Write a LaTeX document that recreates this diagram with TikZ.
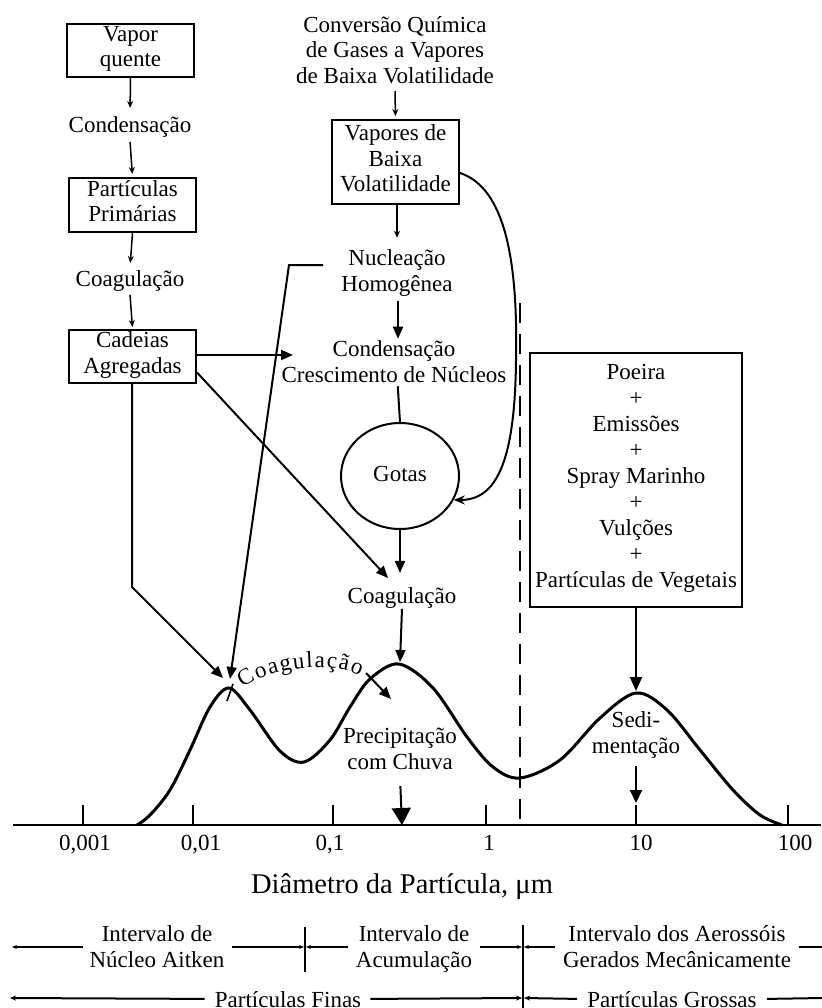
\documentclass[tikz,border=0pt]{standalone}
\usepackage{fontspec}
\setmainfont{Liberation Serif}
\usetikzlibrary{arrows.meta,shapes.geometric,decorations.text}
\newcommand\fs{\fontsize{23}{25.5}\selectfont}
\newcommand\fsbig{\fontsize{28.5}{32}\selectfont}
\begin{document}
\begin{tikzpicture}[x=1pt,y=-1pt,
  txt/.style={font=\fs, align=center, inner sep=0pt, execute at begin node=\strut, execute at end node=\strut},
  box/.style={txt, draw, line width=2pt},
  thinarr/.style={line width=1.5pt, -{Stealth[length=7pt,width=6pt]}},
  bigarr/.style={line width=2pt, -{Triangle[length=12pt,width=10pt]}},
  iarr/.style={line width=1.3pt, -{Stealth[length=5pt,width=4pt]}},
  iarrb/.style={line width=2pt, -{Stealth[length=6pt,width=5pt]}},
  tick/.style={line width=2pt}
]
\useasboundingbox[fill=white] (0,0) rectangle (821,1008);

% left column
\node[box, minimum width=127, minimum height=53] (vapor) at (130.5,50.5) {Vapor\\quente};
\node[txt, anchor=base] (cond1) at (130,133) {Condensação};
\node[box, minimum width=127, minimum height=54] (prim) at (132.5,205) {Partículas\\Primárias};
\node[txt, anchor=base] (coag1) at (130,286) {Coagulação};
\node[box, minimum width=127, minimum height=53] (cad) at (132.5,356.5) {Cadeias\\Agregadas};

\draw[thinarr, shorten >=7pt] (vapor.south) -- (cond1.north);
\draw[thinarr, shorten <=1pt, shorten >=3pt] (cond1.south) -- (prim.north);
\draw[thinarr, shorten >=5pt] (prim.south) -- (coag1.north);
\draw[thinarr, shorten <=1pt, shorten >=2pt] (coag1.south) -- (cad.north);

% middle column
\node[txt] (conv) at (395,53.5) {Conversão Química\\de Gases a Vapores\\de Baixa Volatilidade};
\node[box, minimum width=127, minimum height=84] (vap) at (395.5,162) {Vapores de\\Baixa\\Volatilidade};
\node[txt] (nuc) at (397,274.5) {Nucleação\\Homogênea};
\node[txt] (cresc) at (394,365.5) {Condensação\\Crescimento de Núcleos};
\node[txt, draw, ellipse, line width=2pt, minimum width=118, minimum height=106] (gotas) at (400,476) {Gotas};
\node[txt, anchor=base] (coag2) at (402,603) {Coagulação};

\draw[thinarr, shorten >=3pt] (conv.south) -- (vap.north);
\draw[thinarr, shorten >=12pt] ([xshift=1.5]vap.south) -- ([xshift=1.5]vap.south |- nuc.north);
\draw[bigarr, shorten <=2pt, shorten >=2pt] ([xshift=1]nuc.south) -- ([xshift=1]nuc.south |- cresc.north);
\draw[line width=2pt, shorten <=-4pt] ([xshift=4]cresc.south) -- (gotas.north);
\draw[bigarr, shorten >=12pt] (gotas.south) -- (gotas.south |- coag2.north);

% curved arrow from Vapores to Gotas
\draw[line width=2pt, -{Stealth[length=11pt,width=9pt]}] ([yshift=-11]vap.east)
  .. controls (505,188) and (518,260) .. (516,360)
  .. controls (515,465) and (495,500) .. (gotas.-24);

% coordinates on the distribution
\coordinate (pk1a) at (223,678);
\coordinate (pk1b) at (230,679);
\coordinate (pk2) at (400,662);
\coordinate (pk3) at (636,691);
\coordinate (c2in) at (293,355);
\coordinate (co2in) at (388,578);
\coordinate (cadk) at (132,587);
\coordinate (nuck) at (289,265);

\draw[bigarr] (cad.east |- c2in) -- (c2in);
\draw[bigarr] ([yshift=-16]cad.east) -- (co2in);
\draw[bigarr] (cad.south -| cadk) -- (cadk) -- (pk1a);
\draw[bigarr] ([xshift=-18,yshift=9.5]nuc.west) -- (nuck) -- (pk1b);
\draw[line width=1.6pt] (233,684) -- (227,701);
\draw[bigarr] (coag2.south) ++(0,-2) -- (pk2);

% right box
\node[box, minimum width=212, minimum height=254, font=\fontsize{23}{26}\selectfont] (poe) at (636,480)
  {Poeira\\+\\Emissões\\+\\Spray Marinho\\+\\Vulções\\+\\Partículas de Vegetais};
\draw[line width=2pt, -{Triangle[length=14pt,width=12pt]}] (poe.south) -- (pk3);

% dashed separator
\draw[line width=2pt, dash pattern=on 20pt off 11pt] (520,303) -- (520,825);

% distribution curve
\draw[line width=3pt, line join=round] plot[smooth, tension=0.55] coordinates {
 (137,825) (150,815) (170,790) (190,750) (210,707) (229,688) (250,710) (280,751)
 (304,762) (330,740) (350,707) (370,679) (399,664) (433,688) (467,737) (493,767)
 (520,778) (560,760) (600,718) (636,693) (667,710) (700,750) (733,790) (760,815) (782,825)};

% curved label
\path[decorate, decoration={text along path, text align={fit to path},
  text={|\fontsize{23}{23}\selectfont|Coagulação}}]
  (243,688) .. controls (268,668) and (330,660) .. (360,676);
\coordinate (ctxt) at (366,673);
\coordinate (ctip) at (391,699);
\draw[line width=2pt, -{Triangle[length=12pt,width=10pt]}] (ctxt) -- (ctip);

% labels on plot
\node[txt] (prec) at (400,752.5) {Precipitação\\com Chuva};
\node[txt] (sedi) at (636,736.5) {Sedi-\\mentação};

% axis
\coordinate (ax0) at (13,825);
\coordinate (ax1) at (821,825);
\draw[line width=2.5pt] (ax0) -- (ax1);
\foreach \x in {83,193,333,486,636,788} \draw[tick] (\x,805) -- (\x,825);
\coordinate (a03) at (402,825);
\coordinate (a10) at (636,803);
\draw[line width=2pt, -{Triangle[length=17pt,width=19pt]}, shorten <=9pt] (prec.south) -- (a03);
\draw[line width=2pt, -{Triangle[length=13pt,width=12pt]}, shorten <=5pt] (sedi.south) -- (a10);

\node[txt, anchor=base] (l1) at (85,850) {0,001};
\node[txt, anchor=base] (l2) at (201,850) {0,01};
\node[txt, anchor=base] (l3) at (330,850) {0,1};
\node[txt, anchor=base] (l4) at (489,850) {1};
\node[txt, anchor=base] (l5) at (641,850) {10};
\node[txt, anchor=base] (l6) at (795,850) {100};
\node[txt, anchor=base, font=\fsbig] (diam) at (402,893) {Diâmetro da Partícula, μm};

% intervals
\node[txt] (i1) at (157,950.5) {Intervalo de\\Núcleo Aitken};
\node[txt] (i2) at (414,950.5) {Intervalo de\\Acumulação};
\node[txt] (i3) at (677,950.5) {Intervalo dos Aerossóis\\Gerados Mecânicamente};
\node[txt, anchor=base] (fin) at (288,1007) {Partículas Finas};
\node[txt, anchor=base] (gro) at (672,1007) {Partículas Grossas};

\coordinate (d1t) at (305,927);
\coordinate (d1b) at (305,972);
\coordinate (d2t) at (523,925);
\coordinate (d2b) at (523,1010);
\draw[line width=1.5pt] (d1t) -- (d1b);
\draw[line width=1.5pt] (d2t) -- (d2b);

\coordinate (r1L) at (12,947);
\coordinate (r1a) at (304,947);
\coordinate (r1b) at (306,947);
\coordinate (r1c) at (522,947);
\coordinate (r1d) at (524,947);
\coordinate (r1R) at (823,947);
\draw[iarr] ([xshift=-6.5,yshift=3.5]i1.west) -- (r1L);
\draw[iarr] ([xshift=7.5,yshift=3.5]i1.east) -- (r1a);
\draw[iarr] ([xshift=-8,yshift=3.5]i2.west) -- (r1b);
\draw[iarr] ([xshift=8,yshift=3.5]i2.east) -- (r1c);
\draw[iarr] ([xshift=-7.5,yshift=3.5]i3.west) -- (r1d);
\draw[line width=1.3pt] ([xshift=7.5,yshift=3.5]i3.east) -- (r1R);

\coordinate (r2L) at (10,998);
\coordinate (r2a) at (522,998);
\coordinate (r2b) at (524,998);
\coordinate (r2R) at (823,998);
\draw[iarrb] ([xshift=-10,yshift=3]fin.west) -- (r2L);
\draw[iarrb] ([xshift=9,yshift=3]fin.east) -- (r2a);
\draw[iarrb] ([xshift=-10,yshift=3]gro.west) -- (r2b);
\draw[line width=2pt] ([xshift=10,yshift=3]gro.east) -- (r2R);
\end{tikzpicture}
\end{document}
